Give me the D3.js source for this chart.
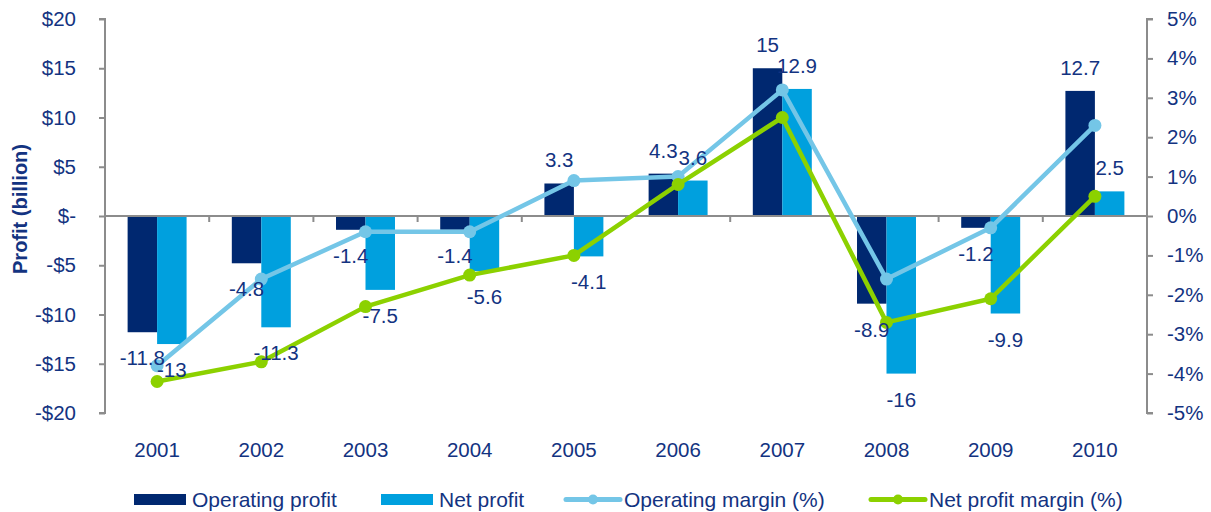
<!DOCTYPE html>
<html>
<head>
<meta charset="utf-8">
<script src="https://cdn.jsdelivr.net/npm/d3@7"></script>
<style>
  body { margin: 0; background: #fff; }
  svg { display: block; font-family: Arial, "Liberation Sans", sans-serif; }
</style>
</head>
<body>
<div id="chart"></div>
<script>
// chart data
const years = ["2001", "2002", "2003", "2004", "2005", "2006", "2007", "2008", "2009", "2010"];
const operatingProfit = [-11.8, -4.8, -1.4, -1.4, 3.3, 4.3, 15, -8.9, -1.2, 12.7];
const netProfit = [-13, -11.3, -7.5, -5.6, -4.1, 3.6, 12.9, -16, -9.9, 2.5];
const operatingMargin = [-3.8, -1.6, -0.4, -0.4, 0.9, 1.0, 3.2, -1.6, -0.3, 2.3];
const netMargin = [-4.2, -3.7, -2.3, -1.5, -1.0, 0.8, 2.5, -2.7, -2.1, 0.5];
const leftTicks = [20, 15, 10, 5, 0, -5, -10, -15, -20];
const rightTicks = [5, 4, 3, 2, 1, 0, -1, -2, -3, -4, -5];

const navy = "#002870";
const blue = "#00a0de";
const skyBlue = "#74c6e7";
const green = "#8cd100";
const textColor = "#133381";
const axisGray = "#8c8c8c";

function drawChart() {
    const width = 1211, height = 512;
    const left = 105, right = 1147, top = 19, bottom = 413;

    const svg = d3.select("#chart")
        .append("svg")
        .attr("width", width)
        .attr("height", height);

    // scales
    const x = d3.scaleBand().domain(years).range([left, right]).padding(0);
    const yLeft = d3.scaleLinear().domain([-20, 20]).range([bottom, top]);
    const yRight = d3.scaleLinear().domain([-5, 5]).range([bottom, top]);
    const barW = x.bandwidth() * 0.283;

    // bars
    const bars = svg.append("g");
    bars.selectAll(".op")
        .data(operatingProfit)
        .enter()
        .append("rect")
        .attr("x", (d, i) => x(years[i]) + x.bandwidth() / 2 - barW)
        .attr("y", d => yLeft(Math.max(0, d)))
        .attr("width", barW)
        .attr("height", d => Math.abs(yLeft(d) - yLeft(0)))
        .attr("fill", navy);
    bars.selectAll(".net")
        .data(netProfit)
        .enter()
        .append("rect")
        .attr("x", (d, i) => x(years[i]) + x.bandwidth() / 2)
        .attr("y", d => yLeft(Math.max(0, d)))
        .attr("width", barW)
        .attr("height", d => Math.abs(yLeft(d) - yLeft(0)))
        .attr("fill", blue);

    // left axis
    const leftAxis = svg.append("g")
        .attr("transform", `translate(${left},0)`)
        .call(d3.axisLeft(yLeft).tickValues(leftTicks).tickSize(6).tickPadding(23)
            .tickFormat(d => d === 0 ? "$-" : (d < 0 ? "-$" + Math.abs(d) : "$" + d)));

    // right axis
    const rightAxis = svg.append("g")
        .attr("transform", `translate(${right},0)`)
        .call(d3.axisRight(yRight).tickValues(rightTicks).tickSize(6).tickPadding(14)
            .tickFormat(d => d + "%"));

    [leftAxis, rightAxis].forEach(g => {
        g.select(".domain").attr("stroke", axisGray).attr("stroke-width", 2).attr("d",
            g === leftAxis ? `M-6,${top}H0V${bottom}H-6` : `M6,${top}H0V${bottom}H6`);
        g.selectAll(".tick line").attr("stroke", axisGray).attr("stroke-width", 2);
        g.selectAll(".tick text").attr("fill", textColor).style("font-size", "20.5px");
    });

    // zero line with category ticks
    svg.append("line")
        .attr("x1", left).attr("x2", right)
        .attr("y1", yLeft(0)).attr("y2", yLeft(0))
        .attr("stroke", axisGray).attr("stroke-width", 2);
    svg.selectAll(".cattick")
        .data(years.slice(1))
        .enter()
        .append("line")
        .attr("x1", d => x(d)).attr("x2", d => x(d))
        .attr("y1", yLeft(0)).attr("y2", yLeft(0) + 6)
        .attr("stroke", axisGray).attr("stroke-width", 2);

    // year labels
    svg.selectAll(".year")
        .data(years)
        .enter()
        .append("text")
        .attr("x", d => x(d) + x.bandwidth() / 2)
        .attr("y", 457)
        .attr("text-anchor", "middle")
        .attr("fill", textColor)
        .style("font-size", "20.5px")
        .text(d => d);

    // axis title
    svg.append("text")
        .attr("transform", "rotate(-90)")
        .attr("x", -209)
        .attr("y", 27)
        .attr("text-anchor", "middle")
        .attr("fill", textColor)
        .style("font-size", "20px")
        .style("font-weight", "bold")
        .text("Profit (billion)");

    // lines
    const cx = i => x(years[i]) + x.bandwidth() / 2;
    const line = d3.line().x((d, i) => cx(i)).y(d => yRight(d));
    [[operatingMargin, skyBlue], [netMargin, green]].forEach(([vals, col]) => {
        svg.append("path")
            .datum(vals)
            .attr("d", line)
            .attr("fill", "none")
            .attr("stroke", col)
            .attr("stroke-width", 4.5)
            .attr("stroke-linejoin", "round");
        svg.append("g").selectAll("circle")
            .data(vals)
            .enter()
            .append("circle")
            .attr("cx", (d, i) => cx(i))
            .attr("cy", d => yRight(d))
            .attr("r", 6.5)
            .attr("fill", col);
    });

    // data labels
    function labels(vals, offset) {
        svg.append("g").selectAll("text")
            .data(vals)
            .enter()
            .append("text")
            .attr("x", (d, i) => cx(i) + offset)
            .attr("y", d => d >= 0 ? yLeft(d) - 16 : yLeft(d) + 33)
            .attr("text-anchor", "middle")
            .attr("fill", textColor)
            .style("font-size", "20.5px")
            .text(d => d);
    }
    labels(operatingProfit, -barW / 2);
    labels(netProfit, barW / 2);

    // legend
    const legend = svg.append("g");
    const items = [
        { label: "Operating profit", x: 134, color: navy, type: "bar" },
        { label: "Net profit", x: 381, color: blue, type: "bar" },
        { label: "Operating margin (%)", x: 566, color: skyBlue, type: "line" },
        { label: "Net profit margin (%)", x: 871, color: green, type: "line" }
    ];
    items.forEach(it => {
        if (it.type === "bar") {
            legend.append("rect")
                .attr("x", it.x).attr("y", 494)
                .attr("width", 52).attr("height", 11)
                .attr("fill", it.color);
        } else {
            legend.append("line")
                .attr("x1", it.x).attr("x2", it.x + 54)
                .attr("y1", 499.5).attr("y2", 499.5)
                .attr("stroke", it.color).attr("stroke-width", 5)
                .attr("stroke-linecap", "round");
            legend.append("circle")
                .attr("cx", it.x + 27).attr("cy", 499.5)
                .attr("r", 5).attr("fill", it.color);
        }
        legend.append("text")
            .attr("x", it.x + (it.type === "bar" ? 58 : 58))
            .attr("y", 507)
            .attr("fill", textColor)
            .style("font-size", "21px")
            .text(it.label);
    });
}

drawChart();
</script>
</body>
</html>
